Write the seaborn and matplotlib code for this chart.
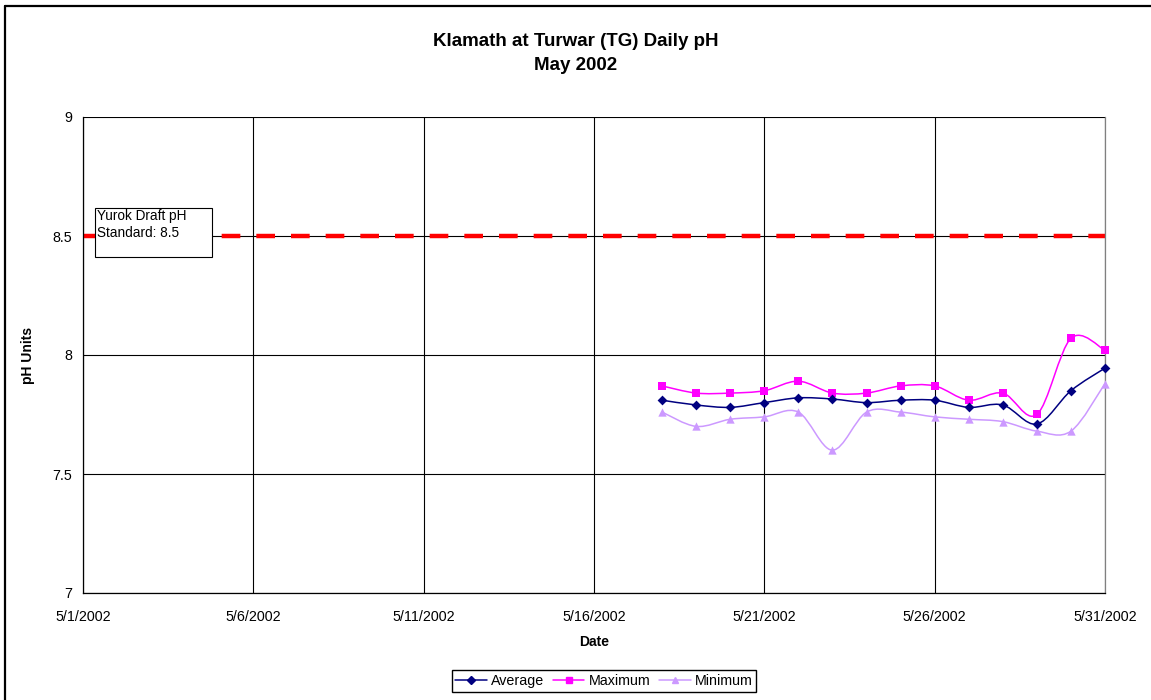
import numpy as np
import pandas as pd
import matplotlib
matplotlib.use("Agg")
import matplotlib.pyplot as plt
import matplotlib.dates as mdates
from matplotlib.path import Path
from matplotlib.patches import PathPatch, Rectangle
from matplotlib.lines import Line2D
import seaborn as sns

# ---- data ----
dates = pd.date_range("2002-05-18", "2002-05-31", freq="D")
average = [7.81, 7.79, 7.78, 7.80, 7.82, 7.815, 7.80, 7.81, 7.81, 7.78, 7.79, 7.71, 7.85, 7.945]
maximum = [7.87, 7.84, 7.84, 7.85, 7.89, 7.84, 7.84, 7.87, 7.87, 7.81, 7.84, 7.75, 8.07, 8.02]
minimum = [7.76, 7.70, 7.73, 7.74, 7.76, 7.60, 7.76, 7.76, 7.74, 7.73, 7.72, 7.68, 7.68, 7.88]
standard = 8.5
x_ticks = pd.date_range("2002-05-01", "2002-05-31", freq="5D")
y_ticks = [7, 7.5, 8, 8.5, 9]

df = pd.DataFrame({"Date": dates, "Average": average, "Maximum": maximum, "Minimum": minimum})
long = df.melt(id_vars="Date", var_name="Series", value_name="pH")

sns.set_theme(style="white")
plt.rcParams["font.family"] = ["Liberation Sans", "DejaVu Sans"]
plt.rcParams["text.color"] = "black"
plt.rcParams["axes.labelcolor"] = "black"

fig = plt.figure(figsize=(11.51, 7.0), dpi=100)
ax = fig.add_axes([83/1151, 1-593/700, (1105-83)/1151, (593-117)/700])

colors = {"Average": "#000080", "Maximum": "#FF00FF", "Minimum": "#CC99FF"}
markers = {"Average": "D", "Maximum": "s", "Minimum": "^"}
msizes = {"Average": 5, "Maximum": 6, "Minimum": 6}

# standard line
ax.axhline(standard, color="#FF0000", lw=3.2, linestyle=(0, (4.2, 3.6)), zorder=2)

def smooth_path(xs, ys):
    pts = np.column_stack([xs, ys])
    n = len(pts)
    verts = [pts[0]]
    codes = [Path.MOVETO]
    for i in range(n - 1):
        p0 = pts[i - 1] if i > 0 else pts[i]
        p1 = pts[i]
        p2 = pts[i + 1]
        p3 = pts[i + 2] if i + 2 < n else pts[i + 1]
        c1 = p1 + (p2 - p0) / 6.0
        c2 = p2 - (p3 - p1) / 6.0
        verts += [c1, c2, p2]
        codes += [Path.CURVE4] * 3
    return Path(verts, codes)

xnum = mdates.date2num(dates)
for name in ["Minimum", "Maximum", "Average"]:
    vals = df[name].values
    patch = PathPatch(smooth_path(xnum, vals), fill=False, edgecolor=colors[name], lw=1.1, zorder=3)
    ax.add_patch(patch)

for name in ["Minimum", "Maximum", "Average"]:
    sub = long[long["Series"] == name]
    sns.scatterplot(data=sub, x="Date", y="pH", ax=ax, color=colors[name], marker=markers[name],
                    s=msizes[name]**2, edgecolor=colors[name], linewidth=0, zorder=4, legend=False,
                    clip_on=False)

ax.set_xlim(mdates.date2num(pd.Timestamp("2002-05-01")), mdates.date2num(pd.Timestamp("2002-05-31")))
ax.set_ylim(7, 9)
ax.set_xticks(mdates.date2num(x_ticks))
ax.set_xticklabels([f"{d.month}/{d.day}/{d.year}" for d in x_ticks], fontsize=10.3)
ax.set_yticks(y_ticks)
ax.set_yticklabels([f"{v:g}" for v in y_ticks], fontsize=10.3)
ax.grid(True, color="black", lw=0.8)
ax.set_axisbelow(True)
for s in ax.spines.values():
    s.set_visible(False)
for side in ["left", "bottom"]:
    ax.spines[side].set_visible(True)
    ax.spines[side].set_color("black")
    ax.spines[side].set_linewidth(0.9)
ax.spines["right"].set_visible(True)
ax.spines["right"].set_color("#808080")
ax.spines["right"].set_linewidth(0.9)
ax.tick_params(axis="both", direction="out", length=4, color="black", width=0.8, pad=4, labelcolor="black")
ax.tick_params(axis="x", pad=8)
ax.set_xlabel("Date", fontsize=10, fontweight="bold", labelpad=8)
ax.set_ylabel("pH Units", fontsize=10, fontweight="bold", labelpad=12)

fig.text(0.5, 1-42/700, "Klamath at Turwar (TG) Daily pH", ha="center", va="center", fontsize=13.5, fontweight="bold")
fig.text(0.5, 1-66/700, "May 2002", ha="center", va="center", fontsize=13.5, fontweight="bold")

# text box
fig.patches.append(Rectangle((95/1151, 1-257/700), (212-95)/1151, (257-208)/700, transform=fig.transFigure,
                             facecolor="white", edgecolor="black", lw=0.8, zorder=5))
fig.text(97/1151, 1-209/700, "Yurok Draft pH\nStandard: 8.5", ha="left", va="top", fontsize=9.8,
         linespacing=1.25, zorder=6)

handles = [Line2D([0], [0], color=colors[n], marker=markers[n], markersize=msizes[n] - 1, lw=1.1)
           for n in ["Average", "Maximum", "Minimum"]]
fig.legend(handles, ["Average", "Maximum", "Minimum"], loc="center", bbox_to_anchor=(604/1151, 1-681/700),
           ncol=3, frameon=True, fancybox=False, edgecolor="black", fontsize=10.3, handlelength=2.2,
           handletextpad=0.3, columnspacing=0.6, borderpad=0.25, framealpha=1)

# outer frame: only left and top edges visible
fig.add_artist(Line2D([5/1151, 5/1151], [0, 1-6/700], transform=fig.transFigure, color="black", lw=1.6))
fig.add_artist(Line2D([5/1151, 1], [1-6/700, 1-6/700], transform=fig.transFigure, color="black", lw=1.6))

fig.savefig("out.png", dpi=100, facecolor="white")
